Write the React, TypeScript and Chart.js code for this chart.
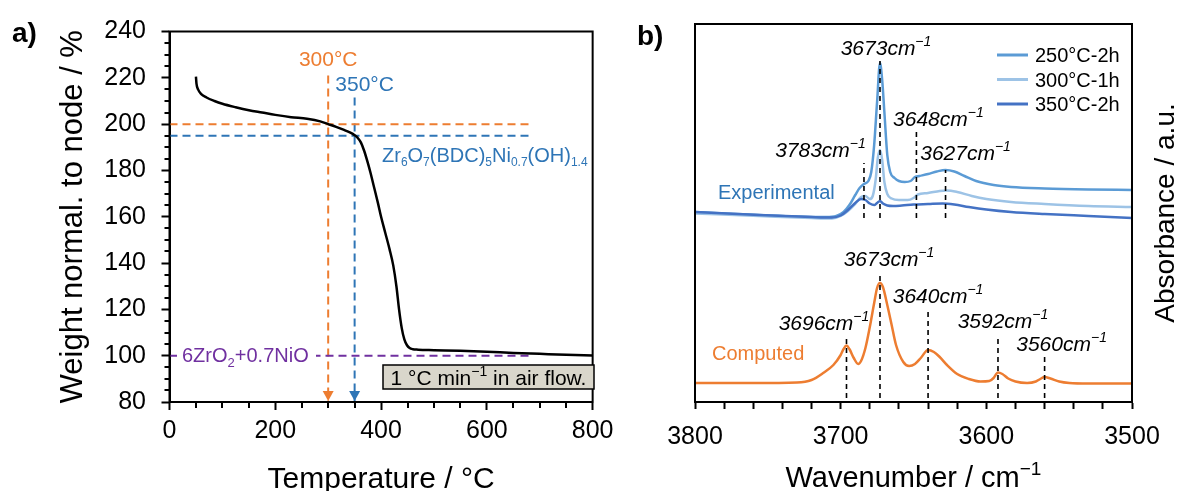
import React, { useEffect, useRef } from "react";
import { Chart, registerables } from "chart.js";

Chart.register(...registerables);

const FONT = "'Liberation Sans', Arial, sans-serif";

// ---------------- Panel a: TGA ----------------
const tgaTemp = [50, 51, 54, 60, 70, 85, 100, 125, 150, 175, 200, 230, 260, 285, 300, 315, 330, 342, 350, 356, 362, 368, 374, 380, 387, 394, 400, 408, 416, 423, 429, 434, 439, 444, 449, 454, 460, 470, 500, 550, 600, 650, 700, 750, 800];
const tgaWeight = [220.5, 217.5, 215, 213, 211.5, 210, 208.8, 207.3, 206, 205, 204, 203, 202.3, 201.2, 200, 198.8, 197.5, 196.3, 195.2, 194, 192, 188.5, 184, 179, 172.5, 166, 160, 153, 146, 139, 130, 120, 112, 107, 104.5, 103.3, 102.8, 102.6, 102.4, 102.1, 101.7, 101.2, 100.8, 100.4, 100.1];
const markTemps = [300, 350];
const markTops = [221, 211.5];
const levelWeights = [200, 195, 100];
const levelEndTemp = 680;
const tempLabelStep = 200;
const weightLabelStep = 20;

// ---------------- Panel b: IR ----------------
const seriesNames = ["250°C-2h", "300°C-1h", "350°C-2h"];
const wn250 = [3800, 3780, 3756, 3730, 3710, 3703, 3698, 3694, 3690, 3687, 3684, 3681, 3679, 3677, 3675, 3673, 3671.5, 3670, 3668, 3666, 3663, 3660, 3656, 3652, 3649, 3646, 3640, 3634, 3628, 3622, 3615, 3607, 3595, 3583, 3560, 3530, 3500];
const ab250 = [190, 188.5, 187, 185.5, 185, 186, 190, 197, 207, 214, 218, 221, 230, 257, 300, 339, 322, 290, 247, 230, 224, 221, 220, 221, 225, 226, 228, 230.5, 232, 230.5, 226, 221, 217, 215, 213.5, 212.5, 212];
const wn300 = [3800, 3756, 3720, 3706, 3700, 3695, 3690, 3686, 3683, 3680, 3678, 3676, 3674.5, 3673, 3671.5, 3670, 3668, 3665, 3660, 3654, 3650, 3647, 3640, 3632, 3627, 3620, 3610, 3600, 3583, 3560, 3530, 3500];
const ab300 = [188.5, 186, 184, 183.5, 186, 191, 198, 205, 206, 203, 206, 222, 244, 252, 242, 220, 208, 203.5, 202, 202, 204, 207.5, 209, 211, 211.5, 210, 206, 203, 200, 198, 196, 195];
const wn350 = [3800, 3756, 3720, 3706, 3700, 3695, 3690, 3686, 3683, 3680, 3677, 3675, 3673, 3671, 3668, 3664, 3658, 3650, 3640, 3630, 3622, 3612, 3600, 3583, 3560, 3530, 3500];
const ab350 = [190, 187, 185, 184.5, 186.5, 192, 199, 203, 202, 198.5, 197, 199, 201, 198.5, 196.5, 196, 196.5, 197.5, 198, 198.5, 197.5, 195, 192.5, 190, 188, 186, 184];
const wnComp = [3800, 3760, 3730, 3720, 3712, 3705, 3700, 3698, 3696, 3694, 3691, 3688, 3686, 3683, 3680, 3677, 3675, 3673, 3671, 3668, 3665, 3662, 3657, 3653, 3649, 3645, 3640, 3636, 3632, 3627, 3620, 3612, 3604, 3598, 3595, 3592, 3589, 3585, 3580, 3572, 3566, 3563, 3560, 3556, 3550, 3543, 3530, 3500];
const abComp = [19, 19, 19.5, 22, 29, 37, 47, 53, 56.5, 53, 44, 38, 41, 54, 75, 99, 114, 119, 115, 97, 77, 57, 40, 36, 38, 44, 52, 50, 45, 37, 28, 23, 20.5, 21, 24, 29.5, 28, 23.5, 20.5, 19, 20.5, 23, 25, 23.5, 20.5, 19, 18.5, 18.5];
const expPeaks = [3684, 3673, 3648, 3628];
const expPeakTops = [239, 341, 272, 232];
const expPeakLabels = ["3783", "3673", "3648", "3627"];
const expPeakBase = 184;
const compPeaks = [3696, 3673, 3640, 3592, 3560];
const compPeakTops = [65, 130, 92, 67, 49];
const compPeakLabels = ["3696", "3673", "3640", "3592", "3560"];
const compPeakBase = 4;
const wnLabelStep = 100;

const ORANGE = "#ED7D31";
const BLUE = "#2E75B6";
const PURPLE = "#7030A0";
const seriesColors = ["#5B9BD5", "#9DC3E6", "#4472C4"];

type Seg = [string, number];

function drawRich(ctx: CanvasRenderingContext2D, segs: Seg[], x: number, baseline: number, align: string, size: number, color: string, style = "", subScale = 0.65) {
  const small = Math.round(size * subScale);
  const fontFor = (m: number) => `${style}${m ? small : size}px ${FONT}`;
  const widths = segs.map(([t, m]) => {
    ctx.font = fontFor(m);
    return ctx.measureText(t).width;
  });
  const total = widths.reduce((s, w) => s + w, 0);
  let cx = align === "center" ? x - total / 2 : align === "right" ? x - total : x;
  const left = cx;
  ctx.fillStyle = color;
  ctx.textAlign = "left";
  ctx.textBaseline = "alphabetic";
  segs.forEach(([t, m], i) => {
    ctx.font = fontFor(m);
    const dy = m === 1 ? size * 0.24 : m === 2 ? -size * 0.42 : 0;
    ctx.fillText(t, cx, baseline + dy);
    cx += widths[i];
  });
  return { left, width: total };
}

const tickFont = { family: FONT, size: 25 };

function pts(xs: number[], ys: number[]) {
  return xs.map((x, i) => ({ x, y: ys[i] }));
}

const panelAPlugin = {
  id: "panelA",
  afterDraw(chart: any) {
    const { ctx, chartArea: a, scales } = chart;
    const x = scales.x;
    const y = scales.y;
    ctx.save();
    ctx.strokeStyle = "#000";
    ctx.lineWidth = 2;
    // minor ticks
    for (let v = y.min; v <= y.max; v += 5) {
      if (v % weightLabelStep === 0) continue;
      const py = Math.round(y.getPixelForValue(v));
      ctx.beginPath();
      ctx.moveTo(a.left - 5, py);
      ctx.lineTo(a.left, py);
      ctx.stroke();
    }
    for (let v = x.min; v <= x.max; v += 50) {
      if (v % tempLabelStep === 0) continue;
      const px = Math.round(x.getPixelForValue(v));
      ctx.beginPath();
      ctx.moveTo(px, a.bottom);
      ctx.lineTo(px, a.bottom + 6);
      ctx.stroke();
    }
    // frame
    ctx.strokeRect(a.left, a.top, a.right - a.left, a.bottom - a.top);
    // arrows
    const arrowCols = [ORANGE, BLUE];
    markTemps.forEach((t, i) => {
      const px = x.getPixelForValue(t);
      const tip = a.bottom - 1;
      ctx.fillStyle = arrowCols[i];
      ctx.beginPath();
      ctx.moveTo(px - 5.5, tip - 10);
      ctx.lineTo(px + 5.5, tip - 10);
      ctx.lineTo(px, tip);
      ctx.closePath();
      ctx.fill();
    });
    // labels of the marks
    drawRich(ctx, [["300°C", 0]], x.getPixelForValue(markTemps[0]), 65.5, "center", 21, ORANGE);
    drawRich(ctx, [["350°C", 0]], x.getPixelForValue(markTemps[1]) + 10, 90.5, "center", 21, BLUE);
    // formula of node
    drawRich(
      ctx,
      [["Zr", 0], ["6", 1], ["O", 0], ["7", 1], ["(BDC)", 0], ["5", 1], ["Ni", 0], ["0.7", 1], ["(OH)", 0], ["1.4", 1]],
      382, 161.5, "left", 20, BLUE, "", 0.6
    );
    // oxide label on purple line
    const py100 = y.getPixelForValue(levelWeights[2]);
    ctx.fillStyle = "#fff";
    ctx.fillRect(177, py100 - 12, 139, 24);
    drawRich(ctx, [["6ZrO", 0], ["2", 1], ["+0.7NiO", 0]], 182, py100 + 6.5, "left", 20, PURPLE);
    // rate box
    ctx.fillStyle = "#D9D6CB";
    ctx.fillRect(383, 365, 211, 24);
    ctx.strokeStyle = "#000";
    ctx.lineWidth = 1.5;
    ctx.strokeRect(383, 365, 211, 24);
    drawRich(ctx, [["1 °C min", 0], ["−1", 2], [" in air flow.", 0]], 488.5, 384.5, "center", 21, "#000");
    // panel letter
    ctx.font = `bold 28px ${FONT}`;
    ctx.fillStyle = "#000";
    ctx.textAlign = "left";
    ctx.textBaseline = "alphabetic";
    ctx.fillText("a)", 12, 42);
    // axis titles
    ctx.font = `30px ${FONT}`;
    ctx.textAlign = "center";
    ctx.fillText("Temperature / °C", (a.left + a.right) / 2, 488);
    ctx.save();
    ctx.translate(82, (a.top + a.bottom) / 2);
    ctx.rotate(-Math.PI / 2);
    ctx.font = `31px ${FONT}`;
    ctx.fillText("Weight normal. to node / %", 0, 0);
    ctx.restore();
    ctx.restore();
  },
};

const panelBPlugin = {
  id: "panelB",
  afterDraw(chart: any) {
    const { ctx, chartArea: a, scales } = chart;
    const x = scales.x;
    const y = scales.y;
    ctx.save();
    ctx.strokeStyle = "#000";
    ctx.lineWidth = 2;
    ctx.strokeRect(a.left, a.top, a.right - a.left, a.bottom - a.top);
    // legend
    const rows = [55, 79.5, 104];
    seriesNames.forEach((name, i) => {
      ctx.strokeStyle = seriesColors[i];
      ctx.lineWidth = 3;
      ctx.beginPath();
      ctx.moveTo(377, rows[i]);
      ctx.lineTo(408, rows[i]);
      ctx.stroke();
      drawRich(ctx, [[name, 0]], 415, rows[i] + 7, "left", 20, "#000");
    });
    // peak labels
    const expDx = [-43.5, 6, 22, 20];
    const expDy = [14, 14, 12, 18];
    expPeaks.forEach((p, i) => {
      const px = x.getPixelForValue(p) + expDx[i];
      const py = y.getPixelForValue(expPeakTops[i]) - expDy[i];
      drawRich(ctx, [[`${expPeakLabels[i]}cm`, 0], ["−1", 2]], px, py + 7.5, "center", 21, "#000", "italic ");
    });
    const compDx = [-22.5, 9, 10, 5, 17];
    const compDy = [15, 14, 15, 15, 10];
    compPeaks.forEach((p, i) => {
      const px = x.getPixelForValue(p) + compDx[i];
      const py = y.getPixelForValue(compPeakTops[i]) - compDy[i];
      drawRich(ctx, [[`${compPeakLabels[i]}cm`, 0], ["−1", 2]], px, py + 7.5, "center", 21, "#000", "italic ");
    });
    drawRich(ctx, [["Experimental", 0]], 98, 199, "left", 20, BLUE);
    drawRich(ctx, [["Computed", 0]], 92, 360, "left", 20, ORANGE);
    // panel letter
    ctx.font = `bold 28px ${FONT}`;
    ctx.fillStyle = "#000";
    ctx.textAlign = "left";
    ctx.textBaseline = "alphabetic";
    ctx.fillText("b)", 17, 45);
    // axis titles
    drawRich(ctx, [["Wavenumber / cm", 0], ["−1", 2]], (a.left + a.right) / 2, 487, "center", 29, "#000");
    ctx.save();
    ctx.translate(554, (a.top + a.bottom) / 2);
    ctx.rotate(-Math.PI / 2);
    ctx.font = `28px ${FONT}`;
    ctx.fillStyle = "#000";
    ctx.textAlign = "center";
    ctx.fillText("Absorbance / a.u.", 0, 0);
    ctx.restore();
    ctx.restore();
  },
};

function dashed(data: { x: number; y: number }[], color: string, width: number, dash: number[]) {
  return {
    data,
    borderColor: color,
    borderWidth: width,
    borderDash: dash,
    pointRadius: 0,
    tension: 0,
    fill: false,
  };
}

function configA(): any {
  const markCols = [ORANGE, BLUE];
  const levelCols = [ORANGE, BLUE, PURPLE];
  const datasets: any[] = [
    {
      data: pts(tgaTemp, tgaWeight),
      borderColor: "#000",
      borderWidth: 2.5,
      pointRadius: 0,
      cubicInterpolationMode: "monotone",
      fill: false,
    },
  ];
  levelWeights.forEach((w, i) => {
    datasets.push(dashed([{ x: 0, y: w }, { x: levelEndTemp, y: w }], levelCols[i], 2, [8, 5]));
  });
  markTemps.forEach((t, i) => {
    datasets.push(dashed([{ x: t, y: markTops[i] }, { x: t, y: 80 }], markCols[i], 2, [8, 5]));
  });
  return {
    type: "line",
    data: { datasets },
    options: {
      responsive: false,
      animation: false,
      events: [],
      layout: { padding: { top: 31.5, right: 21, left: 0, bottom: 0 } },
      plugins: { legend: { display: false }, tooltip: { enabled: false } },
      scales: {
        x: {
          type: "linear",
          min: 0,
          max: 800,
          afterFit: (s: any) => {
            s.height = 89;
          },
          ticks: {
            stepSize: 50,
            autoSkip: false,
            maxRotation: 0,
            padding: 6.5,
            color: "#000",
            font: tickFont,
            callback: (v: number) => (v % tempLabelStep === 0 ? String(v) : ""),
          },
          grid: {
            display: true,
            drawOnChartArea: false,
            drawTicks: true,
            tickLength: 8,
            tickWidth: 2,
            tickColor: (c: any) => (c.tick && c.tick.value % tempLabelStep === 0 ? "#000" : "rgba(0,0,0,0)"),
          },
          border: { display: true, color: "#000", width: 2 },
        },
        y: {
          type: "linear",
          min: 80,
          max: 240,
          afterFit: (s: any) => {
            s.width = 169.5;
          },
          ticks: {
            stepSize: 5,
            autoSkip: false,
            padding: 15.5,
            color: "#000",
            font: tickFont,
            callback: (v: number) => (v % weightLabelStep === 0 ? String(v) : ""),
          },
          grid: {
            display: true,
            drawOnChartArea: false,
            drawTicks: true,
            tickLength: 8,
            tickWidth: 2,
            tickColor: (c: any) => (c.tick && c.tick.value % weightLabelStep === 0 ? "#000" : "rgba(0,0,0,0)"),
          },
          border: { display: true, color: "#000", width: 2 },
        },
      },
    },
    plugins: [panelAPlugin],
  };
}

function configB(): any {
  const datasets: any[] = [];
  expPeaks.forEach((p, i) => {
    datasets.push(dashed([{ x: p, y: expPeakBase }, { x: p, y: expPeakTops[i] }], "#000", 1.6, [5, 4]));
  });
  compPeaks.forEach((p, i) => {
    datasets.push(dashed([{ x: p, y: compPeakBase }, { x: p, y: compPeakTops[i] }], "#000", 1.6, [5, 4]));
  });
  const spectra = [
    [wn350, ab350, seriesColors[2]],
    [wn300, ab300, seriesColors[1]],
    [wn250, ab250, seriesColors[0]],
    [wnComp, abComp, ORANGE],
  ] as any[];
  spectra.forEach(([xs, ys, col]) => {
    datasets.push({
      data: pts(xs, ys),
      borderColor: col,
      borderWidth: 2.5,
      pointRadius: 0,
      cubicInterpolationMode: "monotone",
      fill: false,
    });
  });
  return {
    type: "line",
    data: { datasets },
    options: {
      responsive: false,
      animation: false,
      events: [],
      layout: { padding: { top: 24, right: 48, left: 75, bottom: 0 } },
      plugins: { legend: { display: false }, tooltip: { enabled: false } },
      scales: {
        x: {
          type: "linear",
          min: 3500,
          max: 3800,
          reverse: true,
          afterFit: (s: any) => {
            s.height = 89;
          },
          ticks: {
            stepSize: 20,
            autoSkip: false,
            maxRotation: 0,
            padding: 13.5,
            color: "#000",
            font: tickFont,
            callback: (v: number) => (v % wnLabelStep === 0 ? String(v) : ""),
          },
          grid: {
            display: true,
            drawOnChartArea: false,
            drawTicks: true,
            tickLength: 7,
            tickWidth: 2,
            tickColor: "#000",
          },
          border: { display: true, color: "#000", width: 2 },
        },
        y: {
          type: "linear",
          min: 0,
          max: 378,
          display: false,
        },
      },
    },
    plugins: [panelBPlugin],
  };
}

export default function App() {
  const aRef = useRef<HTMLCanvasElement>(null);
  const bRef = useRef<HTMLCanvasElement>(null);
  useEffect(() => {
    const ca = new Chart(aRef.current as HTMLCanvasElement, configA());
    const cb = new Chart(bRef.current as HTMLCanvasElement, configB());
    return () => {
      ca.destroy();
      cb.destroy();
    };
  }, []);
  return (
    <div style={{ position: "absolute", left: 0, top: 0, width: 1180, height: 491, background: "#fff", overflow: "hidden" }}>
      <canvas ref={aRef} width={620} height={491} style={{ position: "absolute", left: 0, top: 0, width: 620, height: 491 }} />
      <canvas ref={bRef} width={560} height={491} style={{ position: "absolute", left: 620, top: 0, width: 560, height: 491 }} />
    </div>
  );
}
